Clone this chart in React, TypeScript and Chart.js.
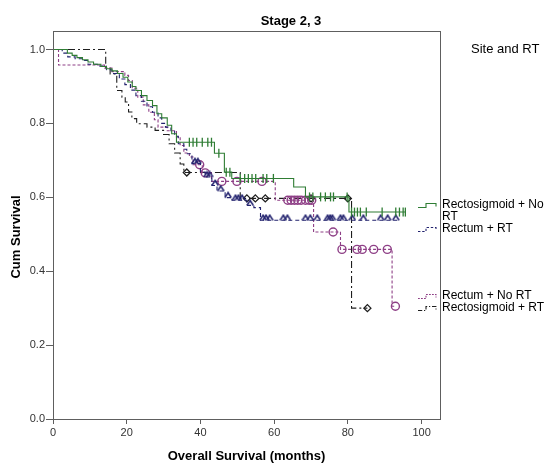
import React, { useEffect, useRef } from "react";
import { Chart, registerables } from "chart.js";
Chart.register(...registerables);

// ---- Data (months, cumulative survival) ----
const seriesLabels = ["Rectosigmoid + No RT", "Rectum + RT", "Rectum + No RT", "Rectosigmoid + RT"];

const greenTimes = [0, 3.9, 5.2, 6.5, 8, 9.5, 11, 13, 14.5, 16, 17.5, 19, 20.3, 21.5, 22.5, 24, 25.5, 27, 28.2, 29.5, 31, 32.2, 33.5, 43.8, 46.5, 48.5, 65.3, 68.5, 80.3];
const greenSurv = [1, 0.99, 0.984, 0.978, 0.972, 0.966, 0.96, 0.954, 0.948, 0.942, 0.935, 0.925, 0.912, 0.9, 0.889, 0.875, 0.862, 0.848, 0.826, 0.815, 0.795, 0.772, 0.749, 0.719, 0.668, 0.651, 0.628, 0.601, 0.56];
const greenEnd = 95.6;
const greenCensored = [37, 38, 39, 40.5, 42, 43, 45, 47, 48, 50.8, 52, 53, 54, 55, 57, 58, 59.8, 69.6, 70.5, 72.6, 73.9, 75.3, 76.1, 79.8, 81, 81.8, 82.6, 83.4, 85, 89.3, 93, 94, 95, 95.6];

const blueTimes = [0, 2.5, 4, 6, 8.5, 9.5, 12, 14.5, 16, 18, 19.5, 21, 22.5, 24, 25.5, 27, 28.5, 29.5, 30.5, 32, 33, 34, 35.5, 36.3, 37.7, 40, 41.3, 43.1, 44.5, 46.7, 48.6, 52.6, 54.5, 56.3];
const blueSurv = [1, 0.99, 0.98, 0.975, 0.97, 0.96, 0.955, 0.945, 0.935, 0.92, 0.905, 0.89, 0.875, 0.86, 0.845, 0.83, 0.815, 0.8, 0.79, 0.78, 0.765, 0.745, 0.73, 0.718, 0.691, 0.668, 0.655, 0.632, 0.617, 0.599, 0.592, 0.578, 0.572, 0.538];
const blueEnd = 93.8;
const blueCensored = [38.5, 39.3, 41.8, 42.5, 44, 45.5, 47.5, 49.5, 50.3, 51.3, 53.5, 57, 57.8, 58.8, 62.5, 63.6, 68.5, 69.8, 71.7, 74.5, 75.2, 75.8, 78, 78.8, 81.2, 84.2, 88.9, 90.8, 93];

const purpleTimes = [0, 1.5, 14, 16, 19.5, 20.5, 21.5, 23, 24.5, 26, 27.5, 28.5, 31, 33.5, 34.5, 35.5, 37, 38, 40.5, 43, 60.3, 70.7, 78, 92];
const purpleSurv = [1, 0.958, 0.95, 0.94, 0.93, 0.916, 0.895, 0.871, 0.85, 0.83, 0.81, 0.79, 0.78, 0.763, 0.74, 0.72, 0.709, 0.688, 0.666, 0.643, 0.592, 0.506, 0.459, 0.305];
const purpleEnd = 92.9;
const purpleCensored = [39.8, 41.3, 45.8, 49.9, 56.7, 63.7, 64.6, 65.5, 66.4, 67.3, 68.5, 69.5, 70.2, 76, 78.4, 82.5, 83.9, 87, 90.7, 92.9];

const blackTimes = [0, 14.3, 15.5, 17.3, 18.7, 19.6, 20.5, 21.4, 22.7, 25.5, 27.7, 30, 31.5, 33, 34.5, 35.5, 50.8, 81];
const blackSurv = [1, 0.95, 0.934, 0.889, 0.871, 0.858, 0.831, 0.813, 0.799, 0.79, 0.781, 0.77, 0.745, 0.72, 0.69, 0.667, 0.597, 0.3];
const blackEnd = 85.3;
const blackCensored = [36.3, 52.6, 54.9, 57.6, 70, 80, 85.3];

const xTicks = [0, 20, 40, 60, 80, 100];
const yTicks = [0, 0.2, 0.4, 0.6, 0.8, 1.0];

const chartTitle = "Stage 2, 3";
const xTitle = "Overall Survival (months)";
const yTitle = "Cum Survival";
const legendTitle = "Site and RT";

// ---- Styles ----
const colors = ["#2f7d34", "#22226e", "#8e3f86", "#1e1e1e"];
const dashes: number[][] = [[], [4, 3], [3, 2], [7, 3, 2, 3]];
const legendY = [205, 229, 296, 308];

function stepAt(times: number[], surv: number[], t: number) {
  let v = surv[0];
  for (let i = 0; i < times.length; i++) if (times[i] <= t) v = surv[i];
  return v;
}

function curve(times: number[], surv: number[], end: number) {
  const pts = times.map((t, i) => ({ x: t, y: surv[i] }));
  pts.push({ x: end, y: surv[surv.length - 1] });
  return pts;
}

function censorPts(times: number[], surv: number[], cens: number[]) {
  return cens.map((t) => ({ x: t, y: stepAt(times, surv, t) }));
}

function makeCaret(color: string) {
  const c = document.createElement("canvas");
  c.width = 8;
  c.height = 13;
  const g = c.getContext("2d")!;
  g.strokeStyle = color;
  g.lineWidth = 1.5;
  g.beginPath();
  g.moveTo(0.8, 6.5);
  g.lineTo(4, 1.5);
  g.lineTo(7.2, 6.5);
  g.stroke();
  return c;
}

export default function App() {
  const ref = useRef<HTMLCanvasElement | null>(null);

  useEffect(() => {
    document.body.style.margin = "0";
    const canvas = ref.current!;
    const all = [
      { t: greenTimes, s: greenSurv, e: greenEnd, c: greenCensored },
      { t: blueTimes, s: blueSurv, e: blueEnd, c: blueCensored },
      { t: purpleTimes, s: purpleSurv, e: purpleEnd, c: purpleCensored },
      { t: blackTimes, s: blackSurv, e: blackEnd, c: blackCensored },
    ];
    const caret = makeCaret(colors[1]);
    const censorStyle: any[] = [
      { pointStyle: "line", rotation: 90, pointRadius: 4.5, borderWidth: 1.3, backgroundColor: colors[0] },
      { pointStyle: caret, pointRadius: 4, borderWidth: 1, backgroundColor: colors[1] },
      { pointStyle: "circle", pointRadius: 4, borderWidth: 1.4, backgroundColor: "rgba(0,0,0,0)" },
      { pointStyle: "rectRot", pointRadius: 3.5, borderWidth: 1.3, backgroundColor: "rgba(255,255,255,0.6)" },
    ];

    const datasets: any[] = [];
    all.forEach((d, i) => {
      datasets.push({
        label: seriesLabels[i],
        data: curve(d.t, d.s, d.e),
        stepped: "before",
        borderColor: colors[i],
        borderWidth: 1.1,
        borderDash: dashes[i],
        pointRadius: 0,
        fill: false,
        showLine: true,
      });
      datasets.push({
        label: seriesLabels[i] + " censored",
        data: censorPts(d.t, d.s, d.c),
        showLine: false,
        borderColor: colors[i],
        ...censorStyle[i],
        pointHoverRadius: 0,
      });
    });

    const frameAndText = {
      id: "frameAndText",
      afterDraw(chart: any) {
        const { ctx, chartArea } = chart;
        ctx.save();
        ctx.strokeStyle = "#5e5e5e";
        ctx.lineWidth = 1;
        ctx.strokeRect(Math.round(chartArea.left) + 0.5, Math.round(chartArea.top) + 0.5,
          Math.round(chartArea.right - chartArea.left), Math.round(chartArea.bottom - chartArea.top));

        ctx.fillStyle = "#000";
        ctx.textBaseline = "middle";
        ctx.textAlign = "center";
        ctx.font = "bold 13px 'Liberation Sans', Arial, sans-serif";
        ctx.fillText(chartTitle, 291, 21);
        ctx.fillText(xTitle, (chartArea.left + chartArea.right) / 2, 456);
        ctx.save();
        ctx.translate(16, 237);
        ctx.rotate(-Math.PI / 2);
        ctx.fillText(yTitle, 0, 0);
        ctx.restore();

        ctx.textAlign = "left";
        ctx.font = "13px 'Liberation Sans', Arial, sans-serif";
        ctx.fillText(legendTitle, 471, 49);

        ctx.font = "12px 'Liberation Sans', Arial, sans-serif";
        const maxW = 105;
        seriesLabels.forEach((lab, i) => {
          const yc = legendY[i];
          const words = lab.split(" ");
          const lines: string[] = [];
          let cur = "";
          words.forEach((w) => {
            const test = cur ? cur + " " + w : w;
            if (ctx.measureText(test).width > maxW && cur) {
              lines.push(cur);
              cur = w;
            } else cur = test;
          });
          lines.push(cur);
          ctx.fillStyle = "#000";
          lines.forEach((ln, k) => ctx.fillText(ln, 442, yc + k * 12));
          ctx.strokeStyle = colors[i];
          ctx.lineWidth = 1.1;
          ctx.setLineDash(dashes[i].map((v) => Math.max(1, v * 0.6)));
          ctx.beginPath();
          ctx.moveTo(418, yc + 2.5);
          ctx.lineTo(426, yc + 2.5);
          ctx.lineTo(426, yc - 1.5);
          ctx.lineTo(436, yc - 1.5);
          ctx.lineTo(436, yc + 1.5);
          ctx.stroke();
          ctx.setLineDash([]);
        });
        ctx.restore();
      },
    };

    const chart = new Chart(canvas, {
      type: "scatter",
      data: { datasets },
      options: {
        animation: false,
        responsive: false,
        layout: { padding: { left: 0, right: 109, top: 31, bottom: 0 } },
        plugins: { legend: { display: false }, tooltip: { enabled: false }, title: { display: false } },
        scales: {
          x: {
            type: "linear",
            min: 0,
            max: 105,
            afterBuildTicks: (s: any) => { s.ticks = xTicks.map((v) => ({ value: v })); },
            afterFit: (s: any) => { s.height = 44; },
            grid: { drawOnChartArea: false, drawTicks: true, tickLength: 5, color: "#5e5e5e" },
            border: { display: false },
            ticks: { color: "#333", font: { size: 11, family: "'Liberation Sans', Arial, sans-serif" }, padding: 2, maxRotation: 0, callback: (v: any) => String(v) },
          },
          y: {
            type: "linear",
            min: 0,
            max: 1.05,
            afterBuildTicks: (s: any) => { s.ticks = yTicks.map((v) => ({ value: v })); },
            afterFit: (s: any) => { s.width = 53; },
            grid: { drawOnChartArea: false, drawTicks: true, tickLength: 7, color: "#5e5e5e" },
            border: { display: false },
            ticks: { color: "#333", font: { size: 11, family: "'Liberation Sans', Arial, sans-serif" }, padding: 1, callback: (v: any) => Number(v).toFixed(1) },
          },
        },
      },
      plugins: [frameAndText],
    } as any);
    return () => chart.destroy();
  }, []);

  return (
    <div style={{ position: "fixed", left: 0, top: 0, width: 549, height: 463, background: "#fff" }}>
      <canvas ref={ref} width={549} height={463} style={{ width: 549, height: 463 }} />
    </div>
  );
}
